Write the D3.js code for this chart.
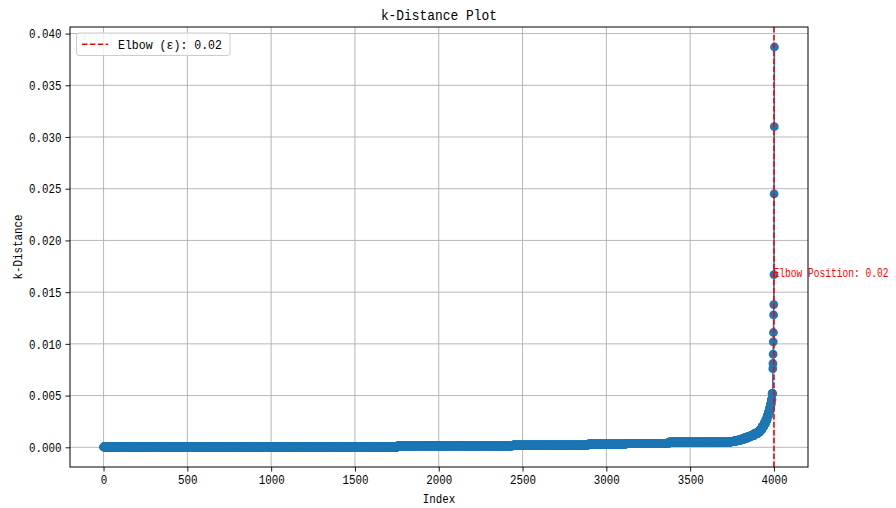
<!DOCTYPE html>
<html>
<head>
<meta charset="utf-8">
<script src="https://cdn.jsdelivr.net/npm/d3@7"></script>
<style>
  html, body { margin: 0; padding: 0; background: #fff; }
  svg text { font-family: "Liberation Mono", "DejaVu Sans Mono", monospace; fill: #000; }
</style>
</head>
<body>
<svg id="chart" width="896" height="508"></svg>
<script>
// Sorted k-distances, stored as runs: how many consecutive points share a value.
const runCounts = [1755, 687, 448, 226, 257, 370,
  20, 20, 20, 20, 20, 20, 20, 20, 14, 12, 11, 10, 9, 8, 7, 6, 5, 4, 4];
const runValues = [0.00003, 0.00013, 0.00022, 0.00030, 0.00039, 0.00050,
  0.00055, 0.00062, 0.00070, 0.00080, 0.00090, 0.00102, 0.00116, 0.00132,
  0.0015, 0.0017, 0.0020, 0.0023, 0.0026, 0.0030, 0.0034, 0.0038, 0.0042, 0.0046, 0.0052];
// The largest distances, one point each.
const tailValues = [0.0076, 0.0081, 0.0090, 0.0102, 0.0111, 0.0128, 0.0138,
  0.0167, 0.0245, 0.0310, 0.0387];
// Position of the elbow inside tailValues.
const elbowTailPos = 7;

const xTickValues = [0, 500, 1000, 1500, 2000, 2500, 3000, 3500, 4000];
const yTickValues = [0, 0.005, 0.010, 0.015, 0.020, 0.025, 0.030, 0.035, 0.040];

const chartTitle = "k-Distance Plot";
const xLabel = "Index";
const yLabel = "k-Distance";

// Expand the runs into the full ordered series.
const kDist = [];
runCounts.forEach((n, i) => { for (let j = 0; j < n; j++) kDist.push(runValues[i]); });
tailValues.forEach(v => kDist.push(v));
const points = kDist.map((v, i) => ({ i, v }));

const elbowIndex = kDist.length - tailValues.length + elbowTailPos;
const elbowValue = kDist[elbowIndex];
const epsText = d3.format(".2f")(elbowValue);

const svg = d3.select("#chart");
const W = 896, H = 508;
const m = { left: 70, right: 88, top: 27, bottom: 41 };
const pw = W - m.left - m.right, ph = H - m.top - m.bottom;

// matplotlib-style 5% padding around the data
const n = kDist.length - 1;
const xPad = n * 0.05;
const yMax = d3.max(kDist), yMin = d3.min(kDist);
const yPad = (yMax - yMin) * 0.05;
const x = d3.scaleLinear().domain([-xPad, n + xPad]).range([m.left, m.left + pw]);
const y = d3.scaleLinear().domain([yMin - yPad, yMax + yPad]).range([m.top + ph, m.top]);

// Squeeze each label to half-width cells, full-width cells for non-Latin glyphs.
function fitMono(sel, size, cell) {
  const c = cell || size * 0.5;
  sel.each(function () {
    let u = 0;
    for (const ch of this.textContent) u += ch.charCodeAt(0) > 0x2ff ? 2 : 1;
    d3.select(this).attr("textLength", u * c).attr("lengthAdjust", "spacingAndGlyphs");
  });
}

svg.append("rect").attr("width", W).attr("height", H).attr("fill", "#fff");

// grid
const grid = svg.append("g");
grid.selectAll(".gx").data(xTickValues).join("line")
  .attr("x1", d => x(d)).attr("x2", d => x(d))
  .attr("y1", m.top).attr("y2", m.top + ph)
  .attr("stroke", "#b0b0b0").attr("stroke-width", 0.9);
grid.selectAll(".gy").data(yTickValues).join("line")
  .attr("x1", m.left).attr("x2", m.left + pw)
  .attr("y1", d => y(d)).attr("y2", d => y(d))
  .attr("stroke", "#b0b0b0").attr("stroke-width", 0.9);

// series: connecting line plus circle markers
const blue = "#1f77b4";
svg.append("path").datum(points)
  .attr("d", d3.line().x(d => x(d.i)).y(d => y(d.v)))
  .attr("fill", "none").attr("stroke", blue).attr("stroke-width", 1.4);
svg.append("g").selectAll("circle").data(points).join("circle")
  .attr("cx", d => x(d.i)).attr("cy", d => y(d.v)).attr("r", 4.4)
  .attr("fill", blue);

// elbow marker line
svg.append("line")
  .attr("x1", x(elbowIndex)).attr("x2", x(elbowIndex))
  .attr("y1", m.top).attr("y2", m.top + ph)
  .attr("stroke", "#ff0000").attr("stroke-width", 1.6)
  .attr("stroke-dasharray", "5.5,2.4");

// elbow annotation
svg.append("text")
  .attr("x", x(elbowIndex) - 0.5).attr("y", y(elbowValue) + 2)
  .attr("font-size", 12).style("fill", "#ff0000")
  .text("Elbow Position: " + epsText)
  .call(fitMono, 12, 5.75);

// axes
const xAxis = svg.append("g").attr("transform", `translate(0,${m.top + ph})`)
  .call(d3.axisBottom(x).tickValues(xTickValues).tickFormat(d3.format("d")).tickSize(4.5).tickPadding(3.5));
const yAxis = svg.append("g").attr("transform", `translate(${m.left},0)`)
  .call(d3.axisLeft(y).tickValues(yTickValues).tickFormat(d3.format(".3f")).tickSize(4.5).tickPadding(4));
[xAxis, yAxis].forEach(a => {
  a.select(".domain").remove();
  a.selectAll(".tick line").attr("stroke", "#000").attr("stroke-width", 0.9);
  a.selectAll(".tick text").attr("font-size", 13).style("fill", "#000").call(fitMono, 13);
});

// frame
svg.append("rect").attr("x", m.left).attr("y", m.top).attr("width", pw).attr("height", ph)
  .attr("fill", "none").attr("stroke", "#000").attr("stroke-width", 1);

// legend
const lg = svg.append("g");
lg.append("rect").attr("x", m.left + 6.5).attr("y", m.top + 6).attr("width", 153.5).attr("height", 22.5)
  .attr("rx", 2.5).attr("fill", "#fff").attr("fill-opacity", 0.8)
  .attr("stroke", "#cccccc").attr("stroke-width", 1);
lg.append("line").attr("x1", m.left + 12).attr("x2", m.left + 38)
  .attr("y1", m.top + 17.3).attr("y2", m.top + 17.3)
  .attr("stroke", "#ff0000").attr("stroke-width", 1.6).attr("stroke-dasharray", "5.5,2.4");
lg.append("text").attr("x", m.left + 48).attr("y", m.top + 21.8)
  .attr("font-size", 13).text("Elbow (ε): " + epsText).call(fitMono, 13);

// title and axis labels
svg.append("text").attr("x", m.left + pw / 2).attr("y", 20).attr("text-anchor", "middle")
  .attr("font-size", 15.5).text(chartTitle).call(fitMono, 15.5);
svg.append("text").attr("x", m.left + pw / 2).attr("y", 502.5).attr("text-anchor", "middle")
  .attr("font-size", 13).text(xLabel).call(fitMono, 13);
svg.append("text").attr("transform", `translate(21.5,${m.top + ph / 2}) rotate(-90)`)
  .attr("text-anchor", "middle").attr("font-size", 13).text(yLabel).call(fitMono, 13);
</script>
</body>
</html>
